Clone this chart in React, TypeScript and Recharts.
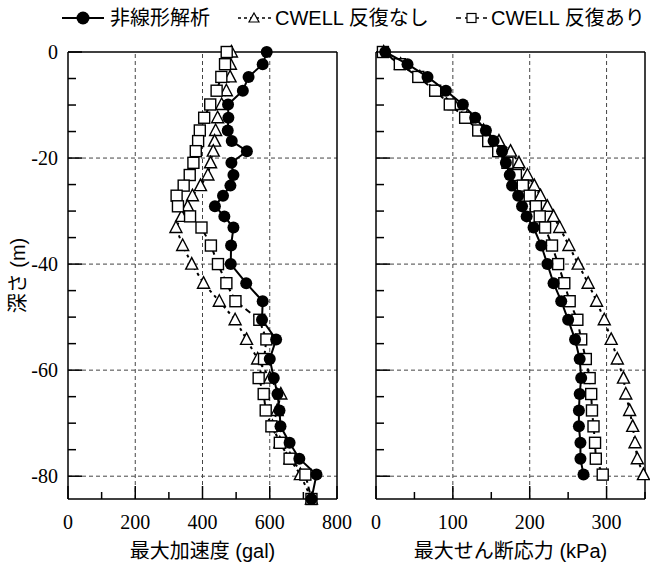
import React from 'react'
import { ScatterChart, Scatter, XAxis, YAxis, ReferenceLine, Label } from 'recharts'

// depth of each output point (m)
const depths = [
  0, -2.3, -4.7, -7.3, -9.9, -12.4, -14.8, -16.8, -18.7, -20.9, -23.2, -25.2, -27.1, -29.1, -31.0, -33.1,
  -36.5, -40.0, -43.6, -47.0, -50.5, -54.2, -57.9, -61.5, -64.5, -67.6, -70.6, -73.7, -76.7, -79.7, -84.3,
]

// max acceleration (gal)
const accNonlinear = [
  591, 579, 537, 520, 476, 477, 475, 487, 532, 486, 492, 483, 461, 437, 465, 492,
  485, 484, 530, 579, 577, 619, 600, 612, 623, 629, 632, 659, 688, 739, 724,
]
const accNoIter = [
  486, 483, 482, 471, 457, 445, 439, 436, 432, 424, 416, 394, 370, 356, 338, 321,
  341, 368, 403, 450, 497, 531, 564, 600, 633, 622, 608, 630, 660, 691, 724,
]
const accIter = [
  472, 467, 456, 442, 423, 405, 392, 387, 380, 373, 362, 344, 323, 327, 363, 397,
  425, 446, 471, 498, 569, 590, 583, 567, 582, 588, 605, 630, 659, 706, 724,
]

// max shear stress (kPa), down to -79.7 m
const stressNonlinear = [
  12, 41, 67, 91, 113, 129, 143, 153, 164, 169, 174, 177, 185, 190, 196, 205,
  215, 223, 231, 241, 250, 259, 265, 267, 265, 264, 264, 266, 266, 270,
]
const stressNoIter = [
  10, 32, 57, 79, 102, 118, 140, 160, 175, 186, 197, 206, 214, 223, 231, 239,
  251, 263, 276, 287, 297, 306, 314, 322, 325, 330, 334, 337, 340, 348,
]
const stressIter = [
  9, 31, 55, 77, 96, 116, 133, 146, 159, 171, 182, 191, 200, 208, 213, 220,
  229, 237, 245, 252, 262, 267, 273, 278, 280, 281, 283, 285, 286, 295,
]

const accTicks = [0, 100, 200, 300, 400, 500, 600, 700, 800]
const accLabels = [0, 200, 400, 600, 800]
const accGrid = [200, 400, 600]
const stressTicks = [0, 50, 100, 150, 200, 250, 300, 350]
const stressLabels = [0, 100, 200, 300]
const stressGrid = [100, 200, 300]
const depthTicks = [0, -5, -10, -15, -20, -25, -30, -35, -40, -45, -50, -55, -60, -65, -70, -75, -80]
const depthLabels = [0, -20, -40, -60, -80]
const depthGrid = [-20, -40, -60, -80]

const SERIF = '"Liberation Serif", "Times New Roman", serif'
const SANS = '"Liberation Sans", Arial, "Noto Sans CJK JP", sans-serif'

const toPoints = (vals: number[]) => vals.map((v, i) => ({ x: v, y: depths[i] }))

const Dot = (p: any) => <circle cx={p.cx} cy={p.cy} r={6} fill="#000" />
const Box = (p: any) => (
  <rect x={p.cx - 5.5} y={p.cy - 5.5} width={11} height={11} fill="#fff" stroke="#000" strokeWidth={1.4} />
)
const Tri = (p: any) => (
  <polygon
    points={`${p.cx},${p.cy - 6.5} ${p.cx + 6},${p.cy + 5} ${p.cx - 6},${p.cy + 5}`}
    fill="#fff"
    stroke="#000"
    strokeWidth={1.4}
  />
)

const bottomTick = (labels: number[]) => (p: any) => {
  const v = p.payload.value
  const major = labels.includes(v)
  return (
    <g>
      <line x1={p.x} x2={p.x} y1={p.y} y2={p.y - (major ? 13 : 7)} stroke="#000" strokeWidth={1.5} />
      {major && (
        <text x={p.x} y={p.y + 30} textAnchor="middle" fontSize={20} fontFamily={SERIF} fill="#000">
          {v}
        </text>
      )}
    </g>
  )
}
const topTick = (labels: number[]) => (p: any) => {
  const major = labels.includes(p.payload.value)
  return <line x1={p.x} x2={p.x} y1={p.y} y2={p.y + (major ? 13 : 7)} stroke="#000" strokeWidth={1.5} />
}
const leftTick = (showLabels: boolean) => (p: any) => {
  const v = p.payload.value
  const major = depthLabels.includes(v)
  return (
    <g>
      <line x1={p.x} x2={p.x + (major ? 14 : 8)} y1={p.y} y2={p.y} stroke="#000" strokeWidth={1.5} />
      {showLabels && major && (
        <text x={p.x - 10} y={p.y + 7} textAnchor="end" fontSize={20} fontFamily={SERIF} fill="#000">
          {v}
        </text>
      )}
    </g>
  )
}
const rightTick = (p: any) => {
  const major = depthLabels.includes(p.payload.value)
  return <line x1={p.x} x2={p.x - (major ? 14 : 8)} y1={p.y} y2={p.y} stroke="#000" strokeWidth={1.5} />
}

type PanelProps = {
  left: number
  width: number
  marginRight: number
  leftW: number
  rightW: number
  domain: [number, number]
  ticks: number[]
  labels: number[]
  grid: number[]
  nonlinear: number[]
  noIter: number[]
  iter: number[]
  title: string
  yTitle?: string
}

function Panel(props: PanelProps) {
  const { left, width, marginRight, leftW, rightW, domain, ticks, labels, grid, title, yTitle } = props
  const axisLine = { stroke: '#000', strokeWidth: 1.5 }
  return (
    <div style={{ position: 'absolute', left, top: 0 }}>
      <ScatterChart width={width} height={568} margin={{ top: 0, right: marginRight, bottom: 0, left: 0 }}>
        <XAxis
          xAxisId="b"
          type="number"
          dataKey="x"
          domain={domain}
          ticks={ticks}
          interval={0}
          height={69}
          tickSize={0}
          tickMargin={0}
          tickLine={false}
          axisLine={axisLine}
          tick={bottomTick(labels)}
        >
          <Label
            content={(lp: any) => {
              const vb = lp.viewBox
              return (
                <text x={vb.x + vb.width / 2} y={vb.y + 59} textAnchor="middle" fontSize={20} fontFamily={SANS} fill="#000">
                  {title}
                </text>
              )
            }}
          />
        </XAxis>
        <XAxis
          xAxisId="t"
          orientation="top"
          type="number"
          domain={domain}
          ticks={ticks}
          interval={0}
          height={52}
          tickSize={0}
          tickMargin={0}
          tickLine={false}
          axisLine={axisLine}
          tick={topTick(labels)}
        />
        <YAxis
          yAxisId="l"
          type="number"
          dataKey="y"
          domain={[-84.3, 0]}
          ticks={depthTicks}
          interval={0}
          width={leftW}
          tickSize={0}
          tickMargin={0}
          tickLine={false}
          axisLine={axisLine}
          tick={leftTick(!!yTitle)}
        >
          {yTitle && (
            <Label
              content={(lp: any) => {
                const vb = lp.viewBox
                const cx = vb.x + 18
                const cy = vb.y + vb.height / 2
                return (
                  <text x={cx} y={cy} transform={`rotate(-90 ${cx} ${cy})`} textAnchor="middle" dominantBaseline="central" fontSize={20} fontFamily={SANS} fill="#000">
                    {yTitle}
                  </text>
                )
              }}
            />
          )}
        </YAxis>
        <YAxis
          yAxisId="r"
          orientation="right"
          type="number"
          domain={[-84.3, 0]}
          ticks={depthTicks}
          interval={0}
          width={rightW}
          tickSize={0}
          tickMargin={0}
          tickLine={false}
          axisLine={axisLine}
          tick={rightTick}
        />
        {grid.map((g) => (
          <ReferenceLine key={`gx${g}`} x={g} xAxisId="b" yAxisId="l" stroke="#444" strokeWidth={1} strokeDasharray="4 3" />
        ))}
        {depthGrid.map((g) => (
          <ReferenceLine key={`gy${g}`} y={g} xAxisId="b" yAxisId="l" stroke="#444" strokeWidth={1} strokeDasharray="4 3" />
        ))}
        <Scatter
          xAxisId="b"
          yAxisId="l"
          data={toPoints(props.noIter)}
          line={{ stroke: '#000', strokeWidth: 2, strokeDasharray: '3 4' }}
          shape={Tri}
          isAnimationActive={false}
        />
        <Scatter
          xAxisId="b"
          yAxisId="l"
          data={toPoints(props.iter)}
          line={{ stroke: '#000', strokeWidth: 2, strokeDasharray: '6 4' }}
          shape={Box}
          isAnimationActive={false}
        />
        <Scatter
          xAxisId="b"
          yAxisId="l"
          data={toPoints(props.nonlinear)}
          line={{ stroke: '#000', strokeWidth: 2 }}
          shape={Dot}
          isAnimationActive={false}
        />
      </ScatterChart>
    </div>
  )
}

function LegendBar() {
  const y = 18
  const txt = { fontSize: 20, fontFamily: SANS, fill: '#000', dominantBaseline: 'central' as const }
  return (
    <svg width={650} height={40} style={{ position: 'absolute', left: 0, top: 0 }}>
      <line x1={62} x2={104} y1={y} y2={y} stroke="#000" strokeWidth={2} />
      <circle cx={83} cy={y} r={6.5} fill="#000" />
      <text x={110} y={y} {...txt}>非線形解析</text>
      <line x1={238} x2={271} y1={y} y2={y} stroke="#000" strokeWidth={1.5} strokeDasharray="3 3" />
      <polygon points={`254,${y - 5} 259,${y + 4} 249,${y + 4}`} fill="#fff" stroke="#000" strokeWidth={1.2} />
      <text x={275} y={y} {...txt}>CWELL 反復なし</text>
      <line x1={456} x2={487} y1={y} y2={y} stroke="#000" strokeWidth={1.5} strokeDasharray="5 4" />
      <rect x={467} y={y - 4.5} width={9} height={9} fill="#fff" stroke="#000" strokeWidth={1.2} />
      <text x={491} y={y} {...txt}>CWELL 反復あり</text>
    </svg>
  )
}

export default function App() {
  return (
    <div style={{ position: 'absolute', left: 0, top: 0, width: 650, height: 568, background: '#fff', overflow: 'hidden' }}>
      <Panel
        left={0}
        width={362}
        marginRight={17}
        leftW={68}
        rightW={8}
        domain={[0, 800]}
        ticks={accTicks}
        labels={accLabels}
        grid={accGrid}
        nonlinear={accNonlinear}
        noIter={accNoIter}
        iter={accIter}
        title="最大加速度 (gal)"
        yTitle="深さ (m)"
      />
      <Panel
        left={345}
        width={305}
        marginRight={0}
        leftW={31}
        rightW={5}
        domain={[0, 350]}
        ticks={stressTicks}
        labels={stressLabels}
        grid={stressGrid}
        nonlinear={stressNonlinear}
        noIter={stressNoIter}
        iter={stressIter}
        title="最大せん断応力 (kPa)"
      />
      <LegendBar />
    </div>
  )
}
